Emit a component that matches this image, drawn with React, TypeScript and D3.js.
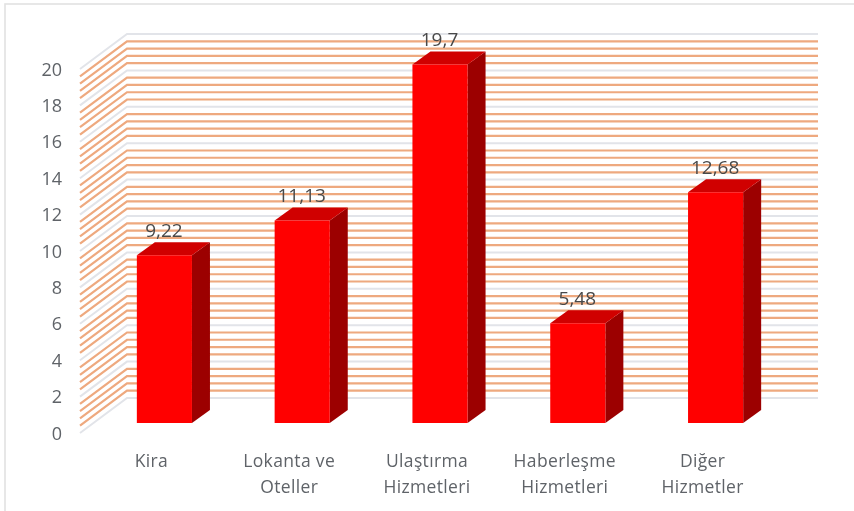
import React from "react";
import * as d3 from "d3";

const categories = [["Kira"], ["Lokanta ve", "Oteller"], ["Ulaştırma", "Hizmetleri"], ["Haberleşme", "Hizmetleri"], ["Diğer", "Hizmetler"]];
const values = [9.22, 11.13, 19.7, 5.48, 12.68];
const valueLabels = ["9,22", "11,13", "19,7", "5,48", "12,68"];
const yTicks = [0, 2, 4, 6, 8, 10, 12, 14, 16, 18, 20];
const minorTicks = [0.4, 0.8, 1.2, 1.6];

const FONT = "'Open Sans', 'Noto Sans', sans-serif";
const WALL = { dx: 47, dy: -35 };
const BAR = { dx: 18, dy: -13 };
const floorFront = 433;
const leftX = 80;
const rightX = 771;

export default function App() {
  const h = d3.scaleLinear().domain([0, 20]).range([0, 364]);
  const x = d3
    .scaleBand<number>()
    .domain(d3.range(values.length))
    .range([95.5, 784.5])
    .paddingInner(0.6)
    .paddingOuter(0.3);
  const barBase = 423;
  const grid = yTicks.slice(0, -1).flatMap((t) => minorTicks.map((m) => t + m));
  const gridLine = (v: number, major: boolean) => {
    const yf = floorFront - h(v);
    const d = d3.line()([
      [leftX, yf],
      [leftX + WALL.dx, yf + WALL.dy],
      [rightX + WALL.dx, yf + WALL.dy],
    ]);
    return (
      <path
        key={`${major}-${v}`}
        d={d!}
        fill="none"
        stroke={major ? "#e2e4e9" : "#eea97f"}
        strokeWidth={major ? 2 : 2.2}
      />
    );
  };
  return (
    <svg width={854} height={511} style={{ position: "absolute", left: 0, top: 0, background: "#fff" }}>
      <defs>
        <filter id="soft" x="-5%" y="-5%" width="110%" height="110%">
          <feGaussianBlur stdDeviation="0.65" />
        </filter>
      </defs>
      <g filter="url(#soft)">
        <rect x={5} y={4} width={870} height={520} fill="none" stroke="#e2e2e2" strokeWidth={1.6} />
        {grid.map((v) => gridLine(v, false))}
        {yTicks.map((v) => gridLine(v, true))}
        {yTicks.map((t) => (
          <text key={t} x={62} y={floorFront - h(t) + 6.5} textAnchor="end" fontFamily={FONT} fontSize={18} fill="#5f6368">
            {t}
          </text>
        ))}
        {values.map((v, i) => {
          const x0 = x(i)!;
          const x1 = x0 + x.bandwidth();
          const top = barBase - h(v);
          const front = `M${x0},${top}H${x1}V${barBase}H${x0}Z`;
          const side = d3.line()([
            [x1, top],
            [x1 + BAR.dx, top + BAR.dy],
            [x1 + BAR.dx, barBase + BAR.dy],
            [x1, barBase],
          ]) + "Z";
          const cap = d3.line()([
            [x0, top],
            [x0 + BAR.dx, top + BAR.dy],
            [x1 + BAR.dx, top + BAR.dy],
            [x1, top],
          ]) + "Z";
          return (
            <g key={i}>
              <path d={side} fill="#9c0000" />
              <path d={cap} fill="#d00000" />
              <path d={front} fill="#ff0000" />
              <text
                x={(x0 + x1) / 2 - 0.5}
                y={top - 18}
                textAnchor="middle"
                fontFamily={FONT}
                fontSize={19}
                fill="#4a4a4a"
              >
                {valueLabels[i]}
              </text>
              {categories[i].map((line, j) => (
                <text
                  key={j}
                  x={(x0 + x1) / 2 - 13}
                  y={467 + j * 25.5}
                  textAnchor="middle"
                  fontFamily={FONT}
                  fontSize={17.5}
                  letterSpacing={0.35}
                  fill="#5f6368"
                >
                  {line}
                </text>
              ))}
            </g>
          );
        })}
      </g>
    </svg>
  );
}
